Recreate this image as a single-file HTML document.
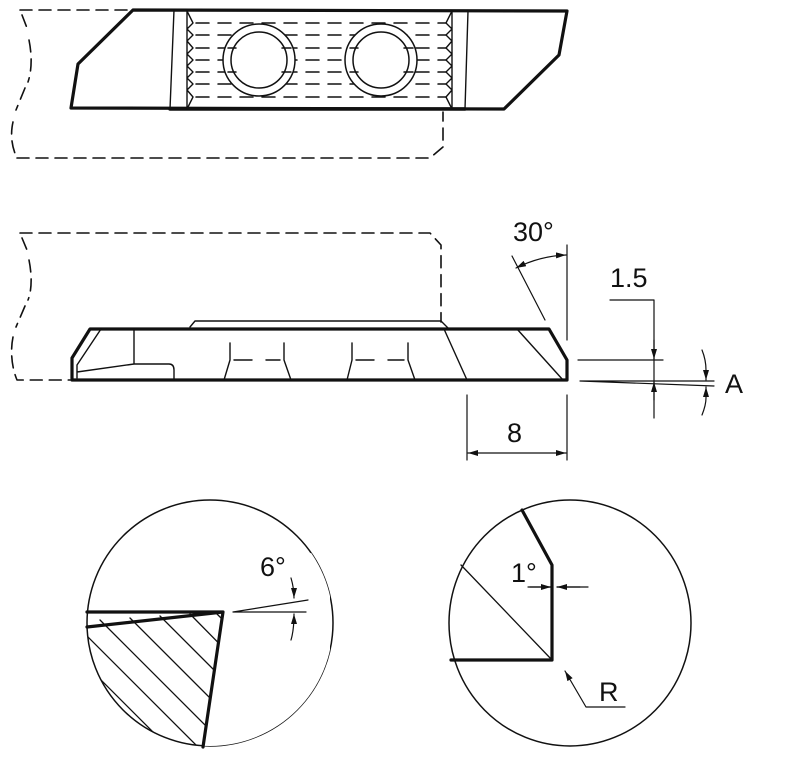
<!DOCTYPE html>
<html><head><meta charset="utf-8"><style>
html,body{margin:0;padding:0;background:#fff;}
svg{display:block;}
text{font-family:"Liberation Sans",sans-serif;fill:#111;}
</style></head><body>
<svg width="800" height="757" viewBox="0 0 800 757" xmlns="http://www.w3.org/2000/svg">
<defs>
<marker id="ar" viewBox="0 0 10 6" refX="10" refY="3" markerWidth="10" markerHeight="6" orient="auto-start-reverse" markerUnits="userSpaceOnUse"><path d="M0,0 L10,3 L0,6 z" fill="#111"/></marker>
<clipPath id="cl"><ellipse cx="210" cy="623" rx="123" ry="123"/></clipPath>
</defs>
<g fill="none" stroke="#111" stroke-linecap="round" stroke-linejoin="round">
<!-- TOP VIEW -->
<path d="M20,10 H132 M17,158 H430 L443,147 V112 M22,15 L27,28 M29,40 C32,55 32,70 28,82 M25,88 L16,110 M13,122 C10,135 12,148 17,158" stroke-width="1.6" stroke-dasharray="12,7"/>
<path d="M133,10 L567,11 L559,55 L504,109 L71,108 L78,64 Z" stroke-width="3.2"/>
<path d="M170,109 H465" stroke-width="3.5"/>
<path d="M174,10 L170,109 M468,11 L465,109" stroke-width="1.4"/>
<path d="M187,11 L193,23 L187,29 L193,35 L187,41 L193,48 L187,54 L193,60 L187,66 L193,72 L187,78 L193,84 L187,90 L193,97 L187,109 M187,11 V109" stroke-width="1.4"/>
<path d="M452,11 L446,23 L452,29 L446,35 L452,41 L446,48 L452,54 L446,60 L452,66 L446,72 L452,78 L446,84 L452,90 L446,97 L452,109 M452,11 V109" stroke-width="1.4"/>
<g stroke-width="1.5" stroke-dasharray="13,9">
<path d="M196,23 H446 M196,35 H446 M196,48 H446 M196,60 H446 M196,72 H446 M196,84 H446 M196,97 H446"/>
</g>
<circle cx="259" cy="60" r="36" fill="#fff" stroke-width="1.5"/>
<circle cx="259" cy="60" r="28" fill="#fff" stroke-width="1.5"/>
<circle cx="381" cy="60" r="36" fill="#fff" stroke-width="1.5"/>
<circle cx="381" cy="60" r="28" fill="#fff" stroke-width="1.5"/>
<g stroke-width="1.5" stroke-dasharray="9,9">
<path d="M228,48 H236 M282,48 H292 M228,72 H236 M282,72 H292 M350,48 H358 M404,48 H414 M350,72 H358 M404,72 H414"/>
</g>

<!-- SIDE VIEW -->
<path d="M20,233 H430 L441,245 V322 M22,238 L27,250 M29,260 C32,275 32,290 28,300 M25,306 L16,327 M13,337 C10,352 12,368 17,380 H70" stroke-width="1.6" stroke-dasharray="12,7"/>
<path d="M90,329 H549 L567,360 V380 H72 V358 Z" stroke-width="3.2"/>
<path d="M190,327 L195,321 H441 L449,329" stroke-width="1.4"/>
<path d="M101,329 L77,365 V378 M77,372 L134,364 H169 Q174,364 174,370 V380 M134,329 V364" stroke-width="1.4"/>
<path d="M444,329 L467,380 M517,329 L563,380" stroke-width="1.4"/>
<path d="M230,343 V360 L224,380 M284,343 V360 L291,380 M352,343 V360 L347,380 M408,343 V360 L415,380" stroke-width="1.4"/>
<path d="M234,360 H252 M266,360 H280 M356,360 H374 M388,360 H404" stroke-width="1.4"/>
<!-- 30 deg -->
<path d="M567,245 V340 M512,256 L545,320" stroke-width="1.2"/>
<path d="M516,268 Q540,256 566,255" stroke-width="1.2" marker-start="url(#ar)" marker-end="url(#ar)"/>
<!-- 1.5 / A -->
<path d="M578,360 H663 M580,381 H714 M580,381 L714,386" stroke-width="1.2"/>
<path d="M610,300 H654 V418" stroke-width="1.2"/>
<path d="M654,340 V359" stroke-width="1.2" marker-end="url(#ar)"/>
<path d="M654,400 V382" stroke-width="1.2" marker-end="url(#ar)"/>
<path d="M702,350 Q706,360 706,370 V380" stroke-width="1.2" marker-end="url(#ar)"/>
<path d="M702,415 Q706,405 706,398 V387" stroke-width="1.2" marker-end="url(#ar)"/>
<!-- 8 -->
<path d="M467,395 V460 M567,395 V460" stroke-width="1.2"/>
<path d="M468,453 H566" stroke-width="1.2" marker-start="url(#ar)" marker-end="url(#ar)"/>

<!-- LEFT DETAIL -->
<ellipse cx="210" cy="623" rx="123" ry="123" stroke-width="1.5"/>
<g clip-path="url(#cl)" stroke-width="1.3">
<path d="M100,620 L240,760 M130,618 L250,738 M160,616 L252,708 M190,614 L255,680 M215,612 L255,652 M86,635 L200,749 M86,665 L170,749 M86,695 L140,749"/>
<path d="M223,612 L210,700 L203,747 L330,747 V540 Z" fill="#fff" stroke="none"/>
</g>
<path d="M87,612 H223 M87,627 L223,612 L203,747" stroke-width="3.2"/>
<path d="M233,612 H306 M233,612 L308,600" stroke-width="1.2"/>
<path d="M291,578 Q294,588 294,598" stroke-width="1.2" marker-end="url(#ar)"/>
<path d="M291,640 Q294,630 294,614" stroke-width="1.2" marker-end="url(#ar)"/>

<!-- RIGHT DETAIL -->
<ellipse cx="570" cy="623" rx="121" ry="123" stroke-width="1.5"/>
<path d="M522,510 L552,565 V660 H451" stroke-width="3.2"/>
<path d="M461,565 L552,660" stroke-width="1.3"/>
<path d="M528,587 H551 M557,587 H588" stroke-width="1.2"/>
<path d="M530,587 H551" stroke-width="1.2" marker-end="url(#ar)"/>
<path d="M580,587 H557" stroke-width="1.2" marker-end="url(#ar)"/>
<path d="M625,707 H586 L565,671" stroke-width="1.2" marker-end="url(#ar)"/>
</g>
<text x="513" y="241" font-size="27">30°</text>
<text x="610" y="287" font-size="27">1.5</text>
<text x="725" y="393" font-size="27">A</text>
<text x="507" y="442" font-size="27">8</text>
<text x="260" y="576" font-size="27">6°</text>
<text x="511" y="582" font-size="27">1°</text>
<text x="599" y="701" font-size="27">R</text>
</svg>
</body></html>
